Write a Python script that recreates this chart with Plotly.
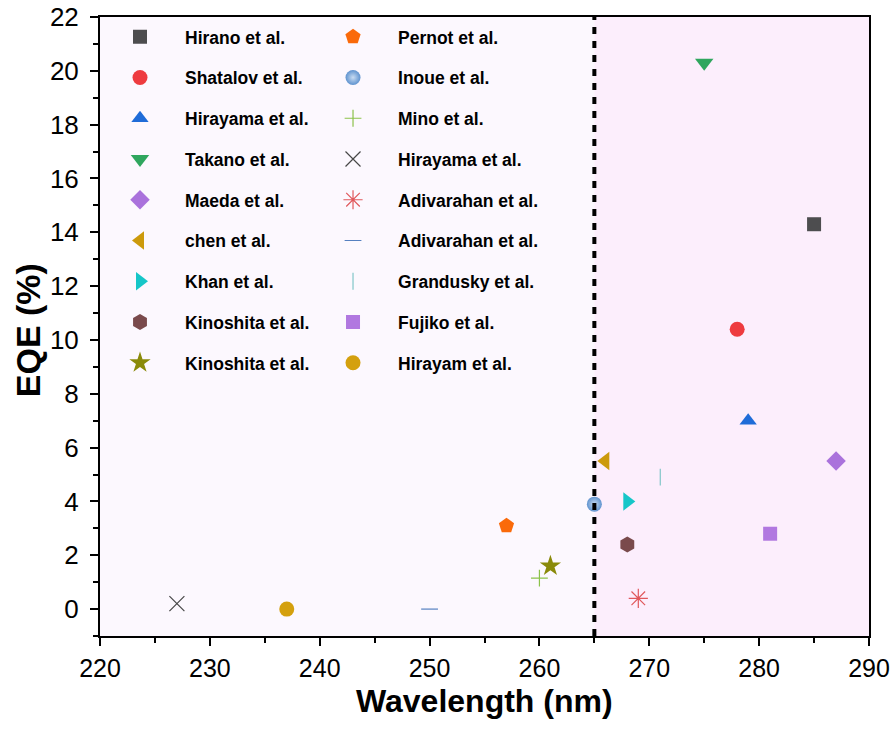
import plotly.graph_objects as go

names = ["Hirano et al.", "Shatalov et al.", "Hirayama et al.", "Takano et al.", "Maeda et al.",
         "chen et al.", "Khan et al.", "Kinoshita et al.", "Kinoshita et al.",
         "Pernot et al.", "Inoue et al.", "Mino et al.", "Hirayama et al.", "Adivarahan et al.",
         "Adivarahan et al.", "Grandusky et al.", "Fujiko et al.", "Hirayam et al."]
wavelength = [285, 278, 279, 275, 287, 266, 268, 268, 261,
              257, 265, 260, 227, 269, 250, 271, 281, 237]
eqe = [14.3, 10.4, 7.0, 20.3, 5.5, 5.5, 4.0, 2.4, 1.6,
       3.1, 3.9, 1.15, 0.2, 0.4, 0.0, 4.9, 2.8, 0.0]
symbols = ["square", "circle", "triangle-up", "triangle-down", "diamond", "triangle-left",
           "triangle-right", "hexagon", "star", "pentagon", "circle", "cross-thin-open",
           "x-thin-open", "asterisk-open", "line-ew-open", "line-ns-open", "square", "circle"]
colors = ["#4D4D4F", "#EE3B3F", "#1F6CD8", "#2FA65E", "#AA72DC", "#CC9A0C", "#16C6C8",
          "#7A4A4C", "#8A8A0A", "#FA6A0A", "#5F93CF", "#8CC24A", "#474747", "#E0585C",
          "#5580C0", "#80C6C8", "#B178E0", "#D4A00E"]
sizes = [14, 15, 15, 16, 15, 16, 16, 16, 16, 16, 15, 12, 15, 16, 12, 12, 14, 15]
boundary = 265
x_title = "Wavelength (nm)"
y_title = "EQE (%)"

fig = go.Figure()
for i, (n, x, y, s, c, sz) in enumerate(zip(names, wavelength, eqe, symbols, colors, sizes)):
    marker = dict(symbol=s, color=c, size=sz, line=dict(width=0, color=c))
    if s.endswith("open"):
        marker["line"] = dict(width=1.2, color=c)
    if n == "Inoue et al.":
        marker["gradient"] = dict(type="radial", color="#C9DCF2")
    fig.add_trace(go.Scatter(
        x=[x], y=[y], mode="markers", name=n, marker=marker,
        legendgroup=f"g{i}", legend="legend" if i < 9 else "legend2"))

fig.add_shape(type="rect", xref="x", yref="paper", x0=220, x1=boundary, y0=0, y1=1,
              fillcolor="#FCF8FE", line_width=0, layer="below")
fig.add_shape(type="rect", xref="x", yref="paper", x0=boundary, x1=290, y0=0, y1=1,
              fillcolor="#FCEEFC", line_width=0, layer="below")
fig.add_shape(type="line", xref="x", yref="paper", x0=boundary, x1=boundary, y0=0, y1=1,
              line=dict(color="black", width=4, dash="7px,7px"))

fig.add_annotation(text=f"<b>{x_title}</b>", xref="paper", yref="paper", x=0.5, y=-0.105,
                   xanchor="center", yanchor="middle", showarrow=False,
                   font=dict(size=32, family="Arial", color="black"))
fig.add_annotation(text=f"<b>{y_title}</b>", xref="paper", yref="paper", x=-0.0936, y=0.494,
                   xanchor="center", yanchor="middle", showarrow=False, textangle=-90,
                   font=dict(size=34, family="Arial", color="black"))

legend_common = dict(font=dict(family="Arial", size=17.5, color="black", weight="bold"),
                     bgcolor="rgba(0,0,0,0)", traceorder="grouped", tracegroupgap=15,
                     itemsizing="trace", itemwidth=80, xanchor="left", yanchor="top")
fig.update_layout(
    width=893, height=738,
    margin=dict(l=100, r=24, t=17, b=102),
    paper_bgcolor="white", plot_bgcolor="white",
    font=dict(family="Arial", color="black"),
    legend=dict(x=-0.0065, y=0.997, **legend_common),
    legend2=dict(x=0.2705, y=0.997, **legend_common),
    xaxis=dict(range=[220, 290], dtick=10, tick0=220, showgrid=False, zeroline=False,
               showline=True, linewidth=2, linecolor="black", mirror=True, automargin=False,
               ticks="outside", ticklen=8, tickwidth=2, tickcolor="black",
               minor=dict(ticks="outside", dtick=5, ticklen=5, tickwidth=2, tickcolor="black"),
               tickfont=dict(size=25, family="Arial"), ticklabelstandoff=1,
               ticklabeloverflow="allow"),
    yaxis=dict(range=[-1, 22], dtick=2, tick0=0, showgrid=False, zeroline=False,
               showline=True, linewidth=2, linecolor="black", mirror=True, automargin=False,
               ticks="outside", ticklen=8, tickwidth=2, tickcolor="black",
               minor=dict(ticks="outside", dtick=1, ticklen=5, tickwidth=2, tickcolor="black"),
               tickfont=dict(size=26, family="Arial"), ticklabelstandoff=6,
               ticklabeloverflow="allow"),
)
fig.write_html("out.html", config={"displayModeBar": False},
               post_script="document.body.style.margin='0';")
